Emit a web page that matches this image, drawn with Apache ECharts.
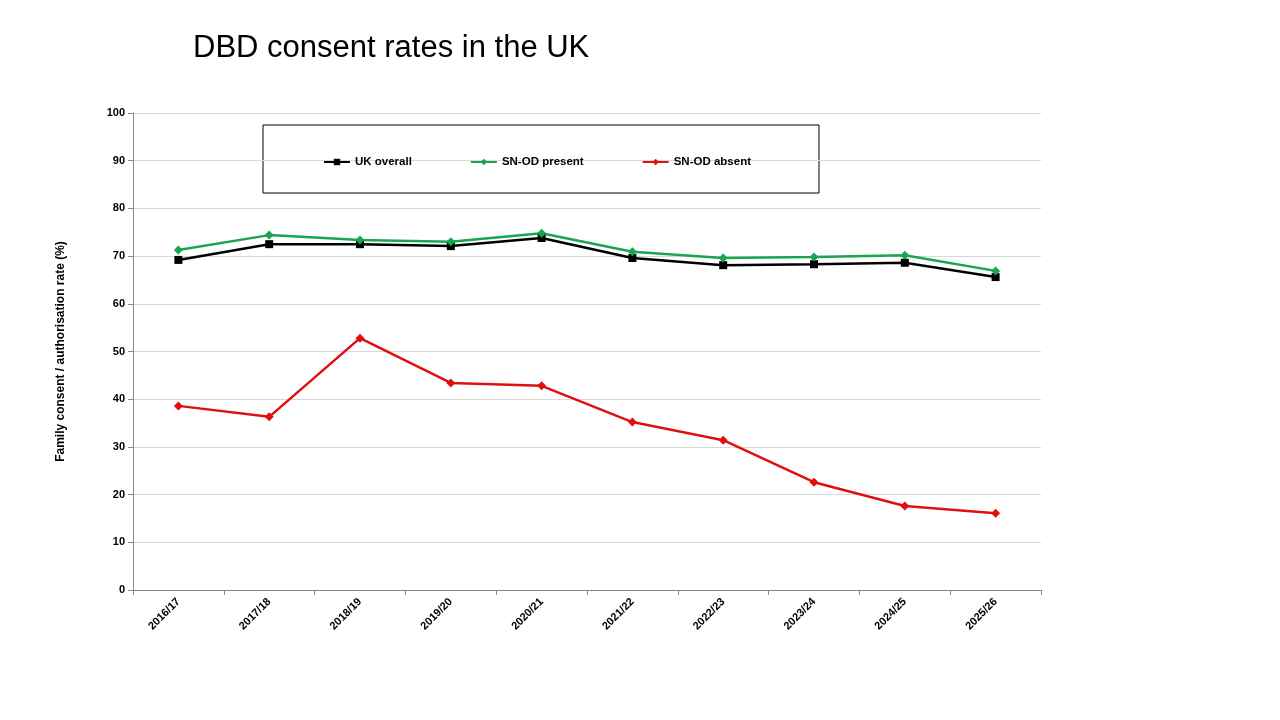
<!DOCTYPE html>
<html>
<head>
<meta charset="utf-8">
<script src="https://cdn.jsdelivr.net/npm/echarts@6/dist/echarts.min.js"></script>
<style>html,body{margin:0;background:#fff}#c{width:1280px;height:720px}</style>
</head>
<body>
<div id="c"></div>
<script>
// DBD consent rates in the UK
const years = ['2016/17', '2017/18', '2018/19', '2019/20', '2020/21', '2021/22', '2022/23', '2023/24', '2024/25', '2025/26'];
const ukOverall = [69.2, 72.5, 72.5, 72.1, 73.8, 69.6, 68.1, 68.3, 68.6, 65.6];
const snodPresent = [71.3, 74.4, 73.4, 73.0, 74.8, 70.9, 69.6, 69.8, 70.2, 66.9];
const snodAbsent = [38.6, 36.3, 52.8, 43.4, 42.8, 35.2, 31.4, 22.6, 17.6, 16.1];

const chart = echarts.init(document.getElementById('c'));
const font = 'Liberation Sans, Arial, sans-serif';

function line(name, data, color, symbol, size) {
  return {
    name: name, type: 'line', data: data,
    symbol: symbol, symbolSize: size,
    lineStyle: {color: color, width: 2.5},
    itemStyle: {color: color}
  };
}

chart.setOption({
  animation: false,
  title: {
    text: 'DBD consent rates in the UK',
    left: 188, top: 28,
    textStyle: {fontFamily: font, fontSize: 31, fontWeight: 'normal', color: '#000'}
  },
  graphic: [{
    type: 'rect', shape: {x: 263, y: 125, width: 556, height: 68},
    style: {fill: 'none', stroke: '#000', lineWidth: 1}
  }],
  legend: {
    top: 151, left: 318, itemGap: 58, itemWidth: 26, itemHeight: 8,
    textStyle: {fontFamily: font, fontSize: 11.5, fontWeight: 'bold', color: '#000'},
    data: ['UK overall', 'SN-OD present', 'SN-OD absent']
  },
  grid: {left: 133, right: 239, top: 113, bottom: 130},
  xAxis: {
    type: 'category', data: years, boundaryGap: true,
    axisLine: {lineStyle: {color: '#888'}},
    axisTick: {show: true, lineStyle: {color: '#888'}},
    axisLabel: {rotate: 45, color: '#000', fontFamily: font, fontSize: 11, fontWeight: 'bold', margin: 10}
  },
  yAxis: {
    type: 'value', min: 0, max: 100, interval: 10,
    name: 'Family consent / authorisation rate (%)',
    nameLocation: 'middle', nameGap: 66,
    nameTextStyle: {fontFamily: font, fontSize: 12, fontWeight: 'bold', color: '#000'},
    axisLine: {show: true, lineStyle: {color: '#888'}},
    axisTick: {show: true, lineStyle: {color: '#888'}},
    axisLabel: {color: '#000', fontFamily: font, fontSize: 11, fontWeight: 'bold'},
    splitLine: {lineStyle: {color: '#d9d9d9'}}
  },
  series: [
    line('UK overall', ukOverall, '#000000', 'rect', 8),
    line('SN-OD present', snodPresent, '#1aa54f', 'diamond', 9),
    line('SN-OD absent', snodAbsent, '#e01010', 'diamond', 9)
  ]
});
</script>
</body>
</html>
